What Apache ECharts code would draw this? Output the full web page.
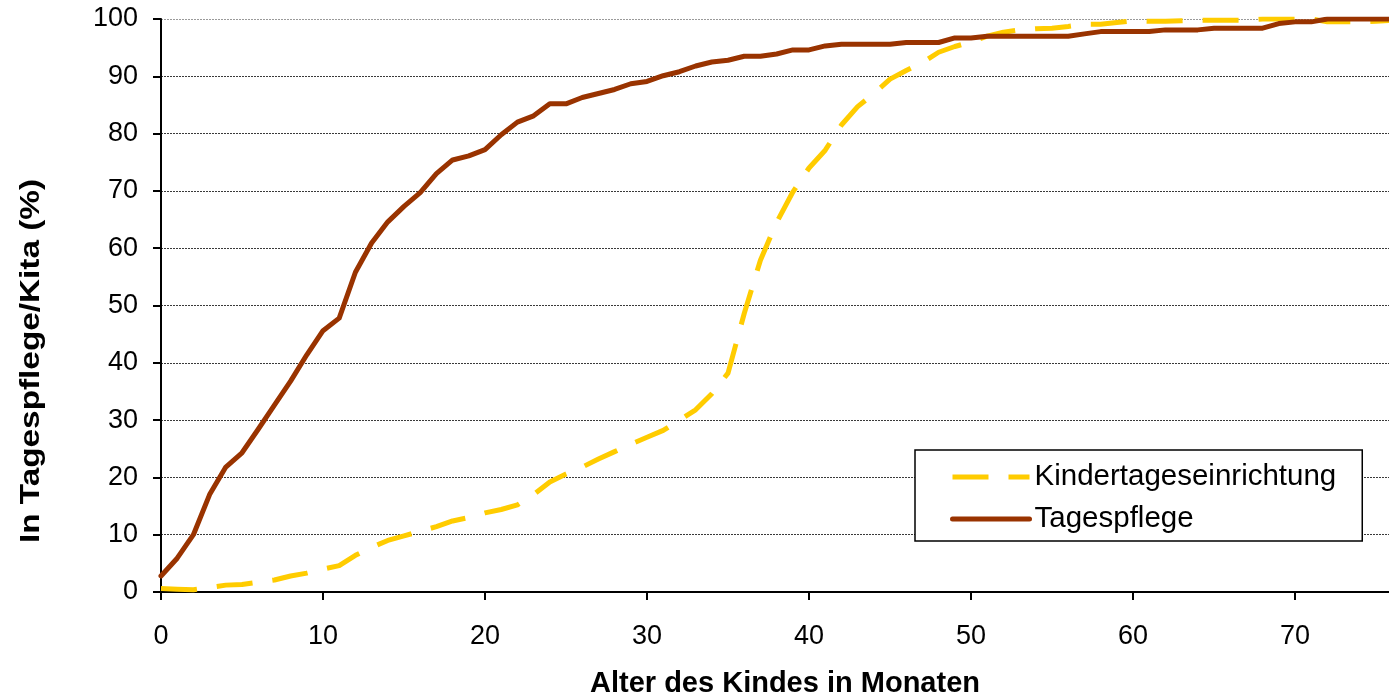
<!DOCTYPE html>
<html>
<head>
<meta charset="utf-8">
<script src="https://cdn.jsdelivr.net/npm/echarts@6/dist/echarts.min.js"></script>
<style>
  html, body { margin: 0; padding: 0; background: #fff; }
  #chart { width: 1389px; height: 697px; }
</style>
</head>
<body>
<div id="chart"></div>
<script>
// Alter des Kindes (Monate)
const months = [
  0, 1, 2, 3, 4, 5, 6, 7, 8, 9,
  10, 11, 12, 13, 14, 15, 16, 17, 18, 19,
  20, 21, 22, 23, 24, 25, 26, 27, 28, 29,
  30, 31, 32, 33, 34, 35, 36, 37, 38, 39,
  40, 41, 42, 43, 44, 45, 46, 47, 48, 49,
  50, 51, 52, 53, 54, 55, 56, 57, 58, 59,
  60, 61, 62, 63, 64, 65, 66, 67, 68, 69,
  70, 71, 72, 73, 74, 75, 76
];

// Anteil in Kindertageseinrichtung (%)
const kita = [
  0.6, 0.5, 0.4, 0.8, 1.2, 1.3, 1.7, 2.1, 2.8, 3.3,
  4.0, 4.6, 6.4, 7.8, 9.0, 9.8, 10.6, 11.4, 12.4, 13.0,
  13.8, 14.4, 15.2, 17.0, 19.2, 20.6, 21.8, 23.2, 24.5, 25.8,
  27.0, 28.2, 30.0, 31.8, 34.6, 38.2, 48.6, 57.9, 64.5, 69.8,
  74.0, 77.1, 81.5, 84.7, 87.0, 89.5, 91.0, 92.4, 94.2, 95.2,
  96.0, 97.0, 97.7, 98.1, 98.3, 98.4, 98.7, 99.1, 99.1, 99.4,
  99.7, 99.6, 99.6, 99.7, 99.8, 99.8, 99.8, 99.8, 100, 100,
  100, 100, 99.5, 99.5, 99.5, 99.6, 99.8
];

// Anteil in Tagespflege (%)
const tagespflege = [
  2.8, 5.9, 10.0, 17.0, 21.8, 24.3, 28.4, 32.6, 36.8, 41.4,
  45.6, 47.8, 55.8, 60.9, 64.6, 67.3, 69.7, 73.0, 75.4, 76.1,
  77.2, 79.8, 82.0, 83.1, 85.2, 85.2, 86.3, 87.0, 87.7, 88.7,
  89.1, 90.1, 90.8, 91.8, 92.5, 92.8, 93.5, 93.5, 93.9, 94.6,
  94.6, 95.3, 95.6, 95.6, 95.6, 95.6, 95.9, 95.9, 95.9, 96.7,
  96.7, 97.0, 97.0, 97.0, 97.0, 97.0, 97.0, 97.4, 97.8, 97.8,
  97.8, 97.8, 98.1, 98.1, 98.1, 98.4, 98.4, 98.4, 98.4, 99.2,
  99.5, 99.5, 100, 100, 100, 100, 100
];

const xTicks = [0, 10, 20, 30, 40, 50, 60, 70];
const yTicks = [0, 10, 20, 30, 40, 50, 60, 70, 80, 90, 100];

const seriesNames = ['Kindertageseinrichtung', 'Tagespflege'];
const xTitle = 'Alter des Kindes in Monaten';
const yTitle = 'In Tagespflege/Kita (%)';

const FONT = '"Liberation Sans", Arial, sans-serif';

const pairs = (vals) => months.map((m, i) => [m, vals[i]]);

// grid lines: dotted dark grey, the top one lighter
const gridColors = yTicks.map((v, i) => (i === yTicks.length - 1 ? '#9a9a9a' : '#3a3a3a'));

const chart = echarts.init(document.getElementById('chart'), null, { renderer: 'canvas' });

chart.setOption({
  backgroundColor: '#ffffff',
  animation: false,
  textStyle: { fontFamily: FONT },
  grid: { left: 161, right: 0, top: 19, bottom: 105, containLabel: false },
  xAxis: {
    type: 'value',
    min: 0,
    max: 75.8,
    interval: 10,
    axisLine: { show: true, onZero: false, lineStyle: { color: '#000', width: 2 } },
    axisTick: { show: true, inside: false, length: 8, customValues: xTicks, lineStyle: { color: '#000', width: 2 } },
    axisLabel: { show: true, customValues: xTicks, margin: 31, color: '#000', fontSize: 27, fontFamily: FONT },
    splitLine: { show: false }
  },
  yAxis: {
    type: 'value',
    min: 0,
    max: 100,
    interval: 10,
    axisLine: { show: true, lineStyle: { color: '#000', width: 2 } },
    axisTick: { show: true, inside: false, length: 8, lineStyle: { color: '#000', width: 2 } },
    axisLabel: { margin: 23, color: '#000', fontSize: 27, fontFamily: FONT },
    splitLine: { show: true, lineStyle: { color: gridColors, width: 1, type: [2, 1] } }
  },
  legend: {
    orient: 'vertical',
    left: 915,
    top: 450,
    data: seriesNames,
    itemWidth: 77,
    itemHeight: 14,
    itemGap: 12,
    padding: [12, 26, 7, 35],
    borderColor: '#000',
    borderWidth: 1.5,
    backgroundColor: '#fff',
    itemStyle: { opacity: 0 },
    lineStyle: { width: 5, type: 'inherit', opacity: 1 },
    textStyle: { color: '#000', fontSize: 29.5, lineHeight: 30, fontFamily: FONT }
  },
  graphic: [
    {
      type: 'text',
      x: 785,
      y: 684,
      style: {
        text: xTitle,
        font: 'bold 29px ' + FONT,
        fill: '#000',
        align: 'center',
        verticalAlign: 'middle'
      }
    },
    {
      type: 'text',
      x: 31,
      y: 361,
      rotation: Math.PI / 2,
      scaleX: 1.19,
      style: {
        text: yTitle,
        font: 'bold 28px ' + FONT,
        fill: '#000',
        align: 'center',
        verticalAlign: 'middle'
      }
    }
  ],
  series: [
    {
      name: seriesNames[0],
      type: 'line',
      data: pairs(kita),
      showSymbol: false,
      symbol: 'none',
      smooth: false,
      clip: true,
      z: 2,
      color: '#FFCC00',
      lineStyle: { color: '#FFCC00', width: 5, type: [36, 20], cap: 'butt', join: 'round' }
    },
    {
      name: seriesNames[1],
      type: 'line',
      data: pairs(tagespflege),
      showSymbol: false,
      symbol: 'none',
      smooth: false,
      clip: true,
      z: 3,
      color: '#993300',
      lineStyle: { color: '#993300', width: 5, cap: 'round', join: 'round' }
    }
  ]
});
</script>
</body>
</html>
